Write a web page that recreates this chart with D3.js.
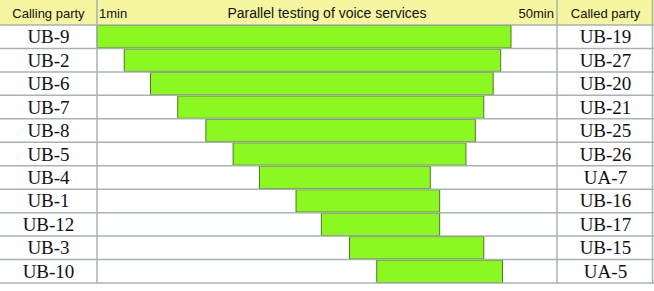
<!DOCTYPE html>
<html>
<head>
<meta charset="utf-8">
<script src="https://cdn.jsdelivr.net/npm/d3@7"></script>
<style>
  body { margin: 0; background: #fff; }
  svg { display: block; }
</style>
</head>
<body>
<svg width="654" height="291"></svg>
<script>
// test pairs, top to bottom
var callers = ["UB-9", "UB-2", "UB-6", "UB-7", "UB-8", "UB-5", "UB-4", "UB-1", "UB-12", "UB-3", "UB-10"];
var callees = ["UB-19", "UB-27", "UB-20", "UB-21", "UB-25", "UB-26", "UA-7", "UB-16", "UB-17", "UB-15", "UA-5"];
// start / end time in minutes
var starts = [1, 3.9, 6.7, 9.6, 12.6, 15.5, 18.3, 22.2, 24.9, 27.9, 30.8];
var ends   = [45.1, 44.0, 43.2, 42.2, 41.3, 40.3, 36.5, 37.5, 37.5, 42.2, 44.2];
var timeDomain = [1, 50];
var timeLabels = ["1min", "50min"];

var svg = d3.select("svg"),
    width = +svg.attr("width");

var leftW = 97, rightX = 557, headerH = 25, bottom = 283;

var x = d3.scaleLinear().domain(timeDomain).range([leftW, rightX]);
var y = d3.scaleBand().domain(d3.range(callers.length)).range([headerH, bottom]);

var gridColor = "#a9b2b2";

// header band
svg.append("rect")
    .attr("x", 0).attr("y", 0)
    .attr("width", width).attr("height", headerH)
    .attr("fill", "#f6f6a0");

// bars
svg.append("g").selectAll("rect")
  .data(callers)
  .enter().append("rect")
    .attr("x", function(d, i) { return x(starts[i]); })
    .attr("y", function(d, i) { return y(i) + 0.5; })
    .attr("width", function(d, i) { return x(ends[i]) - x(starts[i]); })
    .attr("height", y.bandwidth() - 1)
    .attr("fill", "#8cf822")
    .attr("stroke", "#4f7a1e")
    .attr("stroke-width", 1);

// horizontal grid lines
svg.append("g").selectAll("line")
  .data(d3.range(callers.length + 1))
  .enter().append("line")
    .attr("x1", 0).attr("x2", width)
    .attr("y1", function(i) { return i < callers.length ? y(i) : bottom; })
    .attr("y2", function(i) { return i < callers.length ? y(i) : bottom; })
    .attr("stroke", gridColor)
    .attr("stroke-width", 1.5);

// column separators
svg.append("g").selectAll("line")
  .data([leftW, rightX, width - 1.5])
  .enter().append("line")
    .attr("x1", function(d) { return d; }).attr("x2", function(d) { return d; })
    .attr("y1", 0).attr("y2", bottom)
    .attr("stroke", gridColor)
    .attr("stroke-width", 1.5);

// header texts
var hdr = svg.append("g")
    .attr("font-family", "Liberation Sans, Arial, sans-serif")
    .attr("font-size", 13)
    .attr("fill", "#111");

hdr.append("text").attr("x", leftW / 2).attr("y", 18)
    .attr("text-anchor", "middle").text("Calling party");
hdr.append("text").attr("x", (rightX + width) / 2).attr("y", 18)
    .attr("text-anchor", "middle").text("Called party");
hdr.append("text").attr("x", 327).attr("y", 18)
    .attr("text-anchor", "middle").attr("font-size", 14)
    .text("Parallel testing of voice services");
hdr.append("text").attr("x", x(timeDomain[0]) + 2).attr("y", 18)
    .attr("text-anchor", "start").text(timeLabels[0]);
hdr.append("text").attr("x", x(timeDomain[1]) - 3).attr("y", 18)
    .attr("text-anchor", "end").text(timeLabels[1]);

// row labels
var rows = svg.append("g")
    .attr("font-family", "Liberation Serif, Times New Roman, serif")
    .attr("font-size", 19)
    .attr("fill", "#111")
    .attr("text-anchor", "middle");

rows.selectAll(".caller")
  .data(callers)
  .enter().append("text")
    .attr("class", "caller")
    .attr("x", leftW / 2)
    .attr("y", function(d, i) { return y(i) + y.bandwidth() / 2 + 6.5; })
    .text(function(d) { return d; });

rows.selectAll(".callee")
  .data(callees)
  .enter().append("text")
    .attr("class", "callee")
    .attr("x", (rightX + width) / 2)
    .attr("y", function(d, i) { return y(i) + y.bandwidth() / 2 + 6.5; })
    .text(function(d) { return d; });
</script>
</body>
</html>
